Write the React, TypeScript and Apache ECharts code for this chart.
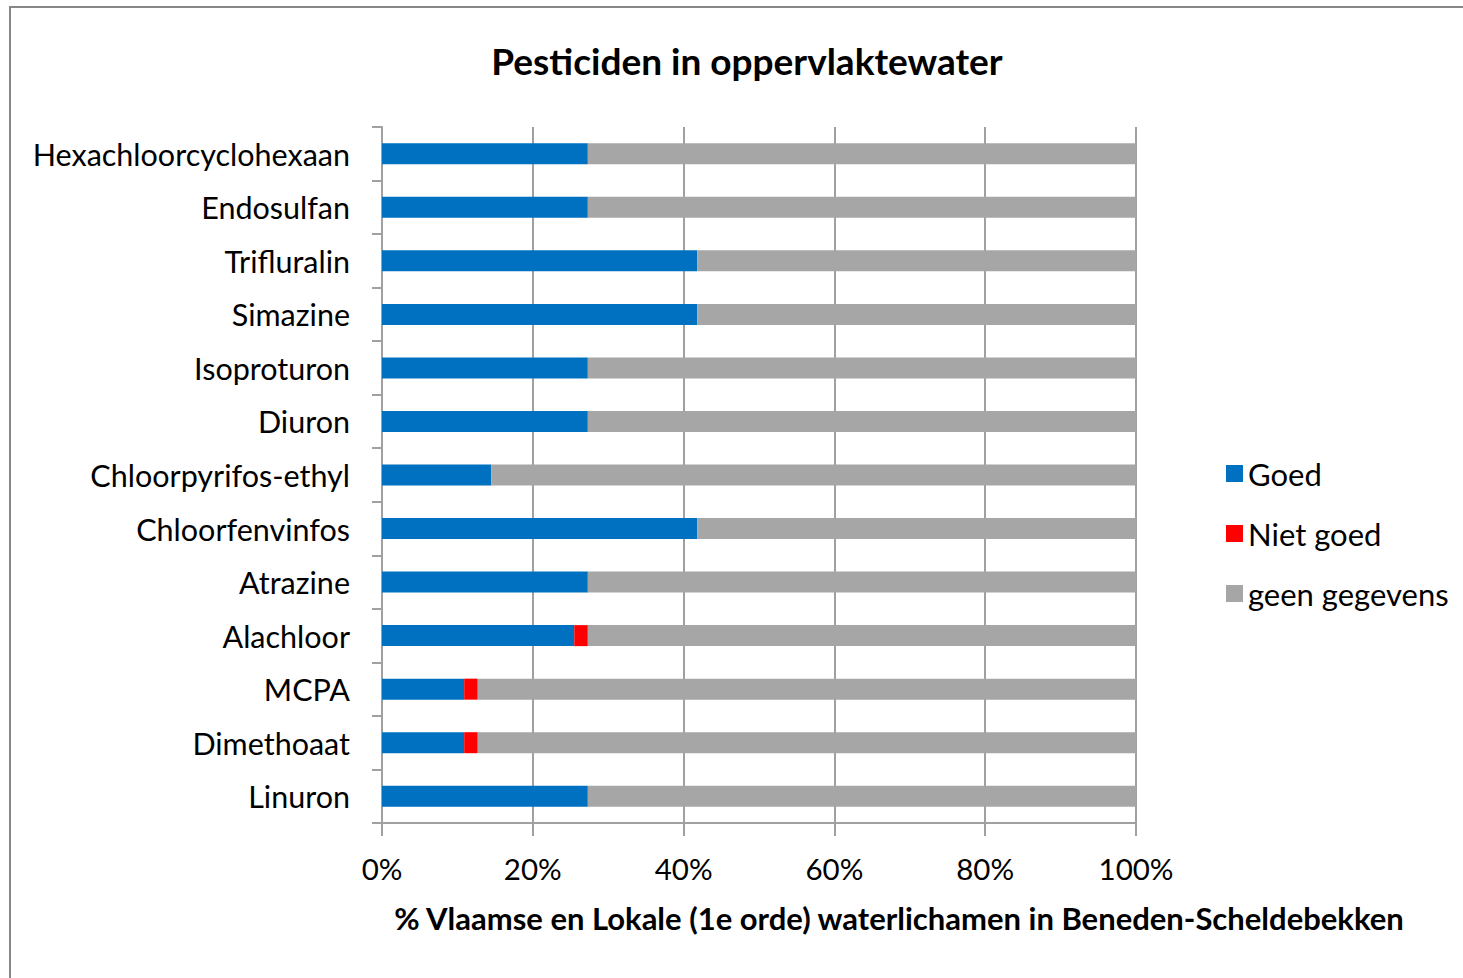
import React, { useEffect, useRef } from "react";
import * as echarts from "echarts";

const categories = [
  "Hexachloorcyclohexaan",
  "Endosulfan",
  "Trifluralin",
  "Simazine",
  "Isoproturon",
  "Diuron",
  "Chloorpyrifos-ethyl",
  "Chloorfenvinfos",
  "Atrazine",
  "Alachloor",
  "MCPA",
  "Dimethoaat",
  "Linuron",
];

const goed = [27.3, 27.3, 41.8, 41.8, 27.3, 27.3, 14.5, 41.8, 27.3, 25.5, 10.9, 10.9, 27.3];
const nietGoed = [0, 0, 0, 0, 0, 0, 0, 0, 0, 1.8, 1.8, 1.8, 0];
const geenGegevens = [72.7, 72.7, 58.2, 58.2, 72.7, 72.7, 85.5, 58.2, 72.7, 72.7, 87.3, 87.3, 72.7];

const xTicks = { min: 0, max: 100, interval: 20 };

const FONT = "Lato";

export default function App() {
  const ref = useRef<HTMLDivElement>(null);

  useEffect(() => {
    if (!ref.current) return;
    const chart = echarts.init(ref.current, null, { renderer: "svg" });
    const barBase = {
      type: "bar",
      stack: "total",
      barWidth: 21,
      emphasis: { disabled: true },
    };
    chart.setOption({
      animation: false,
      backgroundColor: "#ffffff",
      textStyle: { fontFamily: FONT },
      title: [
        {
          text: "Pesticiden in oppervlaktewater",
          left: 747,
          top: 42,
          textAlign: "center",
          padding: 0,
          textStyle: { fontFamily: FONT, fontSize: 37, fontWeight: "bold", color: "#000" },
        },
        {
          text: "% Vlaamse en Lokale (1e orde) waterlichamen in Beneden-Scheldebekken",
          left: 899,
          top: 902,
          textAlign: "center",
          padding: 0,
          textStyle: { fontFamily: FONT, fontSize: 31, fontWeight: "bold", color: "#000" },
        },
      ],
      graphic: [
        {
          type: "rect",
          shape: { x: 10, y: 7, width: 1470, height: 990 },
          style: { fill: "none", stroke: "#888888", lineWidth: 2 },
          silent: true,
        },
      ],
      legend: {
        orient: "vertical",
        left: 1226,
        top: 458,
        padding: 0,
        itemWidth: 17,
        itemHeight: 17,
        itemGap: 29,
        icon: "rect",
        textStyle: { fontFamily: FONT, fontSize: 31, color: "#000" },
        data: ["Goed", "Niet goed", "geen gegevens"],
      },
      grid: { left: 382, right: 327, top: 127, bottom: 155, containLabel: false },
      xAxis: {
        type: "value",
        min: xTicks.min,
        max: xTicks.max,
        interval: xTicks.interval,
        axisLine: { show: true, lineStyle: { color: "#a0a0a0", width: 2 } },
        axisTick: { show: true, length: 13, lineStyle: { color: "#a0a0a0", width: 2 } },
        splitLine: { show: true, lineStyle: { color: "#a0a0a0", width: 2 } },
        axisLabel: {
          formatter: "{value}%",
          fontFamily: FONT,
          fontSize: 29.5,
          color: "#000",
          margin: 30,
        },
      },
      yAxis: {
        type: "category",
        inverse: true,
        data: categories,
        axisLine: { show: true, lineStyle: { color: "#a0a0a0", width: 2 } },
        axisTick: { show: true, length: 10, alignWithLabel: false, lineStyle: { color: "#a0a0a0", width: 2 } },
        axisLabel: { fontFamily: FONT, fontSize: 30.5, color: "#000", margin: 32 },
      },
      series: [
        { ...barBase, name: "Goed", data: goed, itemStyle: { color: "#0070C0" } },
        { ...barBase, name: "Niet goed", data: nietGoed, itemStyle: { color: "#FF0000" } },
        { ...barBase, name: "geen gegevens", data: geenGegevens, itemStyle: { color: "#A6A6A6" } },
      ],
    });
    return () => chart.dispose();
  }, []);

  return (
    <div
      ref={ref}
      style={{ position: "fixed", left: 0, top: 0, width: 1463, height: 978, background: "#fff" }}
    />
  );
}
